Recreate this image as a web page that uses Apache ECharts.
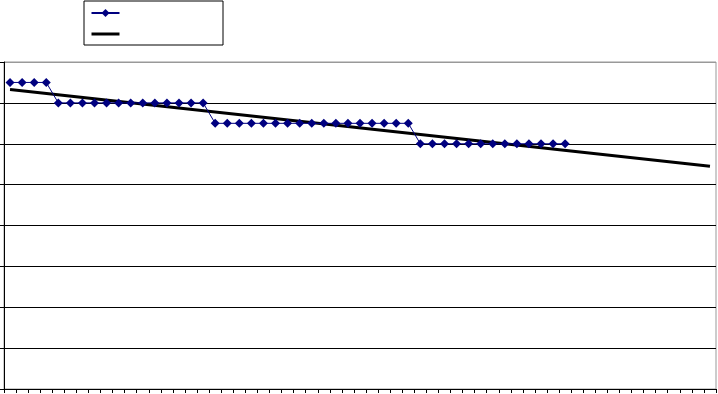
<!DOCTYPE html>
<html>
<head>
<meta charset="utf-8">
<script src="https://cdn.jsdelivr.net/npm/echarts@6/dist/echarts.min.js"></script>
<style>html,body{margin:0;padding:0;background:#fff}#c{width:718px;height:394px}</style>
</head>
<body>
<div id="c"></div>
<script>
// categories (labels are cropped off in the reference)
const categories = Array.from({length: 59}, (_, i) => String(i + 1));
// observed series values
const seriesValues = [
  7.5, 7.5, 7.5, 7.5,
  7, 7, 7, 7, 7, 7, 7, 7, 7, 7, 7, 7, 7,
  6.5, 6.5, 6.5, 6.5, 6.5, 6.5, 6.5, 6.5, 6.5, 6.5, 6.5, 6.5, 6.5, 6.5, 6.5, 6.5, 6.5,
  6, 6, 6, 6, 6, 6, 6, 6, 6, 6, 6, 6, 6
];
// linear trend line endpoints [category index, value]
const trendPoints = [[0, 7.33], [58, 5.45]];
const yTicks = [0, 1, 2, 3, 4, 5, 6, 7, 8];

const chart = echarts.init(document.getElementById('c'), null, {renderer: 'canvas'});
const splitColors = yTicks.map((v, i) => i === yTicks.length - 1 ? '#999999' : '#000000');
chart.setOption({
  animation: false,
  backgroundColor: '#ffffff',
  grid: {left: 4, right: 2, top: 62, bottom: 5, show: true, borderColor: '#999999', borderWidth: 1, backgroundColor: 'transparent'},
  legend: {
    left: 84, top: 1, orient: 'vertical',
    padding: [7, 102, 7, 6], itemGap: 12, itemWidth: 28, itemHeight: 10,
    borderColor: '#000000', borderWidth: 1, backgroundColor: '#ffffff',
    formatter: () => '',
    data: [
      {name: 'Series1'},
      {name: 'Linear (Series1)', itemStyle: {opacity: 0}, lineStyle: {width: 3, color: '#000000'}}
    ]
  },
  xAxis: {
    type: 'category', data: categories, boundaryGap: true,
    axisLine: {lineStyle: {color: '#000000', width: 1}},
    axisTick: {show: true, interval: 0, length: 4, lineStyle: {color: '#000000'}},
    axisLabel: {show: false},
    splitLine: {show: false}
  },
  yAxis: {
    type: 'value', min: yTicks[0], max: yTicks[yTicks.length - 1], interval: 1,
    axisLine: {show: true, lineStyle: {color: '#000000', width: 1}},
    axisTick: {show: true, length: 4, lineStyle: {color: '#000000'}},
    axisLabel: {show: false},
    splitLine: {show: true, lineStyle: {color: splitColors, width: 1}}
  },
  series: [
    {
      name: 'Series1', type: 'line', data: seriesValues,
      symbol: 'diamond', symbolSize: 9, showSymbol: true, showAllSymbol: true,
      lineStyle: {color: '#000080', width: 1},
      itemStyle: {color: '#000080'},
      z: 3
    },
    {
      name: 'Linear (Series1)', type: 'line', data: trendPoints,
      symbol: 'none', showSymbol: false,
      lineStyle: {color: '#000000', width: 3},
      itemStyle: {color: '#000000'},
      z: 2
    }
  ]
});
</script>
</body>
</html>
